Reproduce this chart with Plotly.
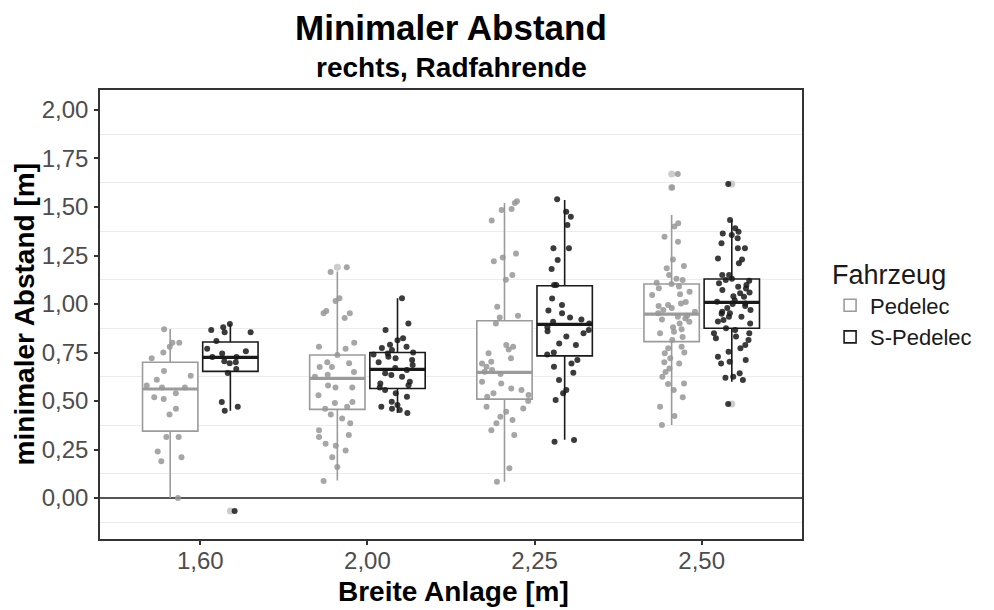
import plotly.graph_objects as go

# ---------------- data ----------------
categories = ["1,60", "2,00", "2,25", "2,50"]
series_names = ["Pedelec", "S-Pedelec"]

# box statistics
ped_q1 = [0.345, 0.457, 0.510, 0.806]
ped_median = [0.562, 0.617, 0.648, 0.948]
ped_q3 = [0.700, 0.737, 0.914, 1.103]
ped_lower = [0.000, 0.090, 0.084, 0.376]
ped_upper = [0.871, 1.167, 1.520, 1.459]

sped_q1 = [0.653, 0.565, 0.733, 0.875]
sped_median = [0.725, 0.663, 0.895, 1.009]
sped_q3 = [0.804, 0.750, 1.094, 1.129]
sped_lower = [0.450, 0.438, 0.300, 0.600]
sped_upper = [0.897, 1.030, 1.536, 1.433]

# boxplot outliers (drawn light at box centre)
ped_outliers = {"1,60": [], "2,00": [1.19], "2,25": [], "2,50": [1.67, 1.60]}
sped_outliers = {"1,60": [-0.067], "2,00": [], "2,25": [], "2,50": [1.619, 0.485]}

# individual observations (jittered points)
ped_160 = [0.87, 0.80, 0.80, 0.78, 0.75, 0.72, 0.655, 0.63, 0.61, 0.58, 0.57, 0.57,
           0.54, 0.52, 0.51, 0.46, 0.43, 0.315, 0.315, 0.24, 0.21, 0.19, 0.0]
ped_200 = [1.19, 1.165, 1.03, 1.015, 0.953, 0.964, 0.953, 0.928, 0.80, 0.78, 0.77,
           0.737, 0.70, 0.695, 0.675, 0.675, 0.65, 0.635, 0.625, 0.57, 0.57, 0.58,
           0.53, 0.495, 0.49, 0.47, 0.46, 0.43, 0.385, 0.41, 0.35, 0.325, 0.315,
           0.28, 0.27, 0.245, 0.21, 0.16, 0.088]
ped_225 = [1.53, 1.52, 1.49, 1.485, 1.43, 1.26, 1.24, 1.22, 1.15, 1.125, 0.986,
           0.94, 0.93, 0.90, 0.789, 0.78, 0.766, 0.746, 0.72, 0.703, 0.694, 0.677,
           0.66, 0.651, 0.64, 0.60, 0.591, 0.565, 0.557, 0.54, 0.531, 0.522, 0.50,
           0.462, 0.47, 0.445, 0.419, 0.402, 0.385, 0.35, 0.325, 0.153, 0.084]
ped_250 = [1.67, 1.60, 1.416, 1.399, 1.347, 1.321, 1.23, 1.196, 1.184, 1.149,
           1.13, 1.124, 1.11, 1.103, 1.09, 1.081, 1.063, 1.05, 1.046, 1.01, 1.003,
           0.995, 0.99, 0.98, 0.969, 0.96, 0.952, 0.94, 0.935, 0.926, 0.92, 0.909,
           0.90, 0.88, 0.87, 0.857, 0.849, 0.83, 0.814, 0.78, 0.772, 0.75, 0.746,
           0.72, 0.70, 0.694, 0.668, 0.65, 0.625, 0.591, 0.588, 0.557, 0.52, 0.47,
           0.423, 0.376]

sped_160 = [0.897, 0.855, 0.855, 0.866, 0.88, 0.81, 0.77, 0.745, 0.757, 0.727,
            0.727, 0.70, 0.705, 0.695, 0.665, 0.645, 0.495, 0.47, 0.45, -0.067]
sped_200 = [1.03, 0.90, 0.866, 0.813, 0.823, 0.79, 0.78, 0.773, 0.763, 0.75,
            0.745, 0.74, 0.728, 0.72, 0.711, 0.70, 0.686, 0.67, 0.66, 0.643,
            0.634, 0.625, 0.60, 0.59, 0.582, 0.57, 0.557, 0.54, 0.522, 0.496,
            0.48, 0.47, 0.46, 0.454, 0.438]
sped_225 = [1.54, 1.476, 1.45, 1.407, 1.287, 1.287, 1.227, 1.18, 1.098, 1.098,
            1.029, 0.995, 0.966, 0.952, 0.931, 0.92, 0.909, 0.90, 0.88, 0.866,
            0.86, 0.849, 0.832, 0.797, 0.789, 0.75, 0.74, 0.711, 0.694, 0.677,
            0.646, 0.608, 0.557, 0.54, 0.505, 0.299, 0.29]
sped_250 = [1.619, 1.433, 1.39, 1.373, 1.364, 1.356, 1.339, 1.313, 1.287, 1.287,
            1.235, 1.23, 1.21, 1.149, 1.149, 1.13, 1.124, 1.12, 1.107, 1.098,
            1.089, 1.08, 1.072, 1.06, 1.055, 1.04, 1.038, 1.02, 1.012, 1.003,
            1.00, 0.99, 0.98, 0.969, 0.96, 0.952, 0.95, 0.935, 0.935, 0.918,
            0.91, 0.90, 0.875, 0.866, 0.849, 0.849, 0.832, 0.823, 0.814, 0.789,
            0.772, 0.754, 0.728, 0.711, 0.703, 0.694, 0.643, 0.625, 0.62, 0.608,
            0.485]

y_tick_values = [0.0, 0.25, 0.5, 0.75, 1.0, 1.25, 1.5, 1.75, 2.0]
y_tick_labels = ["0,00", "0,25", "0,50", "0,75", "1,00", "1,25", "1,50", "1,75", "2,00"]
y_minor_values = [-0.125, 0.125, 0.375, 0.625, 0.875, 1.125, 1.375, 1.625, 1.875]

# ---------------- styling ----------------
FONT = "Liberation Sans"
ped_line = "#9b9b9b"
sped_line = "#1a1a1a"
ped_point = "rgba(150,150,150,0.85)"
sped_point = "rgba(25,25,25,0.85)"
outlier_col = "#cdcdcd"

stats = {
    "Pedelec": (ped_q1, ped_median, ped_q3, ped_lower, ped_upper, ped_line),
    "S-Pedelec": (sped_q1, sped_median, sped_q3, sped_lower, sped_upper, sped_line),
}
points = {
    "Pedelec": {"1,60": ped_160, "2,00": ped_200, "2,25": ped_225, "2,50": ped_250},
    "S-Pedelec": {"1,60": sped_160, "2,00": sped_200, "2,25": sped_225, "2,50": sped_250},
}
outliers = {"Pedelec": ped_outliers, "S-Pedelec": sped_outliers}
point_colors = {"Pedelec": ped_point, "S-Pedelec": sped_point}

fig = go.Figure()

# boxes
for name in series_names:
    q1, med, q3, lo, hi, col = stats[name]
    fig.add_trace(go.Box(
        name=name, x=categories, q1=q1, median=med, q3=q3,
        lowerfence=lo, upperfence=hi, boxpoints=False,
        line=dict(color=col, width=1.6), fillcolor="white", whiskerwidth=0,
        offsetgroup=name, alignmentgroup="all", legendgroup=name,
        hoverinfo="skip",
    ))

# thicker median lines
for name in series_names:
    q1, med, q3, lo, hi, col = stats[name]
    fig.add_trace(go.Box(
        name=name, x=categories, q1=med, median=med, q3=med,
        lowerfence=med, upperfence=med, boxpoints=False,
        line=dict(color=col, width=3.2), fillcolor="rgba(0,0,0,0)", whiskerwidth=0,
        offsetgroup=name, alignmentgroup="all", legendgroup=name,
        showlegend=False, hoverinfo="skip",
    ))

# outliers (light, at box centre)
for name in series_names:
    xs, ys = [], []
    for c in categories:
        for v in outliers[name][c]:
            xs.append(c)
            ys.append(v)
    fig.add_trace(go.Box(
        name=name, x=xs, y=ys, boxpoints="all", jitter=0, pointpos=0,
        fillcolor="rgba(0,0,0,0)", line=dict(width=0, color="rgba(0,0,0,0)"),
        marker=dict(color=outlier_col, size=7, line=dict(width=0)),
        offsetgroup=name, alignmentgroup="all", legendgroup=name,
        showlegend=False, hoverinfo="skip",
    ))

# jittered observations
for name in series_names:
    xs, ys = [], []
    for c in categories:
        for v in points[name][c]:
            xs.append(c)
            ys.append(v)
    fig.add_trace(go.Box(
        name=name, x=xs, y=ys, boxpoints="all", jitter=0.9, pointpos=0,
        fillcolor="rgba(0,0,0,0)", line=dict(width=0, color="rgba(0,0,0,0)"),
        marker=dict(color=point_colors[name], size=6, line=dict(width=0)),
        offsetgroup=name, alignmentgroup="all", legendgroup=name,
        showlegend=False, hoverinfo="skip",
    ))

fig.update_layout(
    width=986, height=602,
    margin=dict(l=92, r=192, t=82, b=71),
    paper_bgcolor="white", plot_bgcolor="white",
    boxmode="group", boxgap=0.28, boxgroupgap=0.08,
    font=dict(family=FONT, color="#4d4d4d", size=24),
    showlegend=True,
    legend=dict(
        title=dict(text="Fahrzeug", font=dict(size=27, color="#1a1a1a", family=FONT)),
        font=dict(size=22, color="#1a1a1a", family=FONT),
        x=1.04, xanchor="left", y=0.645, yanchor="top",
        bgcolor="rgba(0,0,0,0)", tracegroupgap=0,
    ),
    annotations=[
        dict(text="<b>Minimaler Abstand</b>", xref="paper", yref="paper",
             x=0.5, y=1.140, xanchor="center", yanchor="middle", showarrow=False,
             font=dict(size=35, color="#000000", family=FONT)),
        dict(text="<b>rechts, Radfahrende</b>", xref="paper", yref="paper",
             x=0.5, y=1.049, xanchor="center", yanchor="middle", showarrow=False,
             font=dict(size=28, color="#000000", family=FONT)),
        dict(text="<b>Breite Anlage [m]</b>", xref="paper", yref="paper",
             x=0.503, y=-0.118, xanchor="center", yanchor="middle", showarrow=False,
             font=dict(size=28, color="#000000", family=FONT)),
        dict(text="<b>minimaler Abstand [m]</b>", xref="paper", yref="paper",
             x=-0.107, y=0.5, xanchor="center", yanchor="middle", showarrow=False,
             textangle=-90, font=dict(size=28, color="#000000", family=FONT)),
    ],
)

fig.update_xaxes(
    type="category", categoryorder="array", categoryarray=categories,
    range=[-0.6, 3.6], showgrid=False, zeroline=False,
    showline=True, linecolor="#333333", linewidth=1.5, mirror=True,
    ticks="outside", ticklen=4, tickwidth=1.5, tickcolor="#333333",
    tickfont=dict(size=24, color="#4d4d4d", family=FONT),
    ticklabelstandoff=-5,
)
fig.update_yaxes(
    range=[-0.211, 2.103], tickvals=y_tick_values, ticktext=y_tick_labels,
    showgrid=False,
    minor=dict(tickvals=y_minor_values, showgrid=True, gridcolor="#ececec", gridwidth=1),
    zeroline=True, zerolinecolor="#555555", zerolinewidth=2,
    showline=True, linecolor="#333333", linewidth=1.5, mirror=True,
    ticks="outside", ticklen=4, tickwidth=1.5, tickcolor="#333333",
    tickfont=dict(size=24, color="#4d4d4d", family=FONT),
    ticklabelstandoff=1,
)

fig.write_html("out.html")
